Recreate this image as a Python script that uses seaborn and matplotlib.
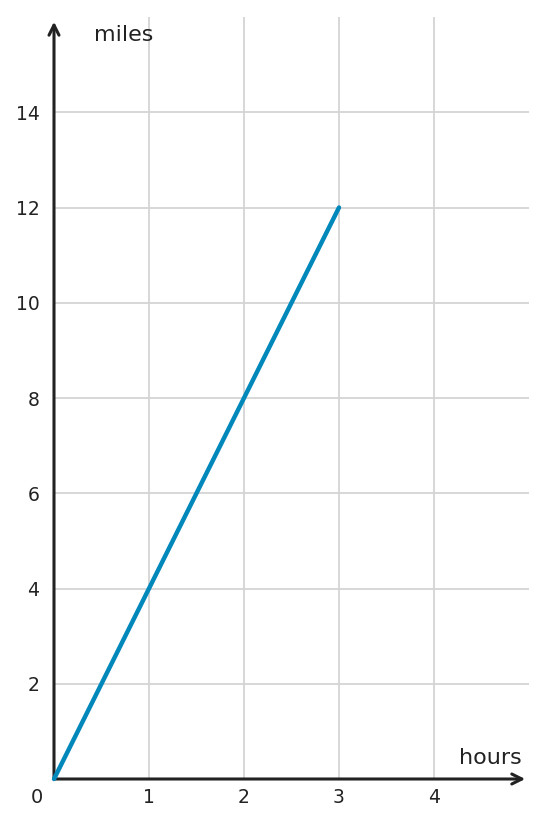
import matplotlib
matplotlib.use("Agg")
import matplotlib.pyplot as plt
import seaborn as sns
import pandas as pd

hours = [0, 1, 2, 3]
miles = [0, 4, 8, 12]
x_ticks = [1, 2, 3, 4]
y_ticks = [2, 4, 6, 8, 10, 12, 14]

sns.set_theme(style="white")
plt.rcParams['font.family'] = ['DejaVu Sans']

dark = "#222222"
fig = plt.figure(figsize=(5.48, 8.27), dpi=100)
ax = fig.add_axes([54/548, 48/827, (529-54)/548, (779-17)/827])

df = pd.DataFrame({"hours": hours, "miles": miles})
sns.lineplot(data=df, x="hours", y="miles", ax=ax, color="#0088bb",
             linewidth=3.2, zorder=5, clip_on=False)

ax.set_xlim(0, 5)
ax.set_ylim(0, 16)
ax.set_xticks(x_ticks)
ax.set_yticks(y_ticks)
ax.grid(True, color="#d4d4d4", linewidth=1.3)
ax.set_axisbelow(True)
for s in ax.spines.values():
    s.set_visible(False)
ax.tick_params(axis="both", direction="in", length=4.5, width=2, color=dark,
               labelsize=13.5, labelcolor=dark)
ax.tick_params(axis="x", pad=6.5)
ax.tick_params(axis="y", pad=10.5)
ax.set_xlabel("")
ax.set_ylabel("")

# axis arrows
ax.annotate("", xy=(4.96, 0), xytext=(0, 0),
            arrowprops=dict(arrowstyle="->", color=dark, lw=2.2,
                            shrinkA=0, shrinkB=0, mutation_scale=18),
            annotation_clip=False)
ax.annotate("", xy=(0, 15.9), xytext=(0, 0),
            arrowprops=dict(arrowstyle="->", color=dark, lw=2.2,
                            shrinkA=0, shrinkB=0, mutation_scale=18),
            annotation_clip=False)

ax.text(0.42, 15.62, "miles", fontsize=16, color=dark, ha="left", va="center")
ax.text(4.92, 0.44, "hours", fontsize=16, color=dark, ha="right", va="center")
ax.text(-0.18, -0.38, "0", fontsize=14, color=dark, ha="center", va="center",
        clip_on=False)

fig.savefig("out.png", dpi=100)
